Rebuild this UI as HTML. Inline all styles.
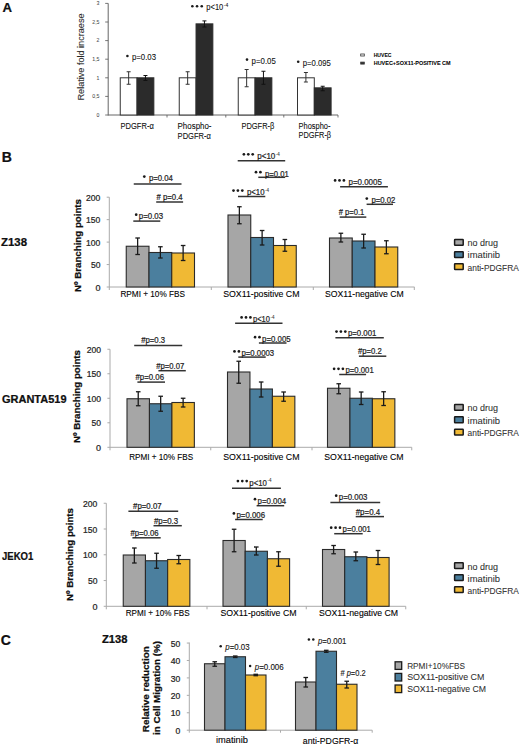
<!DOCTYPE html><html><head><meta charset="utf-8"><style>html,body{margin:0;padding:0;background:#fff;width:520px;height:745px;overflow:hidden}svg{display:block}text{font-family:"Liberation Sans", sans-serif;stroke:#000;stroke-width:0.22px;paint-order:normal}</style></head><body>
<svg width="520" height="745" viewBox="0 0 520 745">
<rect width="520" height="745" fill="#fff"/>
<text x="2.4" y="11.6" font-size="13.2" font-weight="bold" fill="#111" >A</text>
<line x1="108.2" y1="3.4" x2="108.2" y2="115.5" stroke="#666" stroke-width="1"/>
<line x1="108.2" y1="115.0" x2="338" y2="115.0" stroke="#666" stroke-width="1"/>
<line x1="105.2" y1="115.0" x2="108.2" y2="115.0" stroke="#555" stroke-width="0.8"/>
<text x="99.5" y="116.8" font-size="5.2" style="stroke-width:0.05px" text-anchor="end" fill="#555" >0</text>
<line x1="105.2" y1="96.4" x2="108.2" y2="96.4" stroke="#555" stroke-width="0.8"/>
<text x="99.5" y="98.2" font-size="5.2" style="stroke-width:0.05px" text-anchor="end" fill="#555" >0,5</text>
<line x1="105.2" y1="77.8" x2="108.2" y2="77.8" stroke="#555" stroke-width="0.8"/>
<text x="99.5" y="79.6" font-size="5.2" style="stroke-width:0.05px" text-anchor="end" fill="#555" >1</text>
<line x1="105.2" y1="59.199999999999996" x2="108.2" y2="59.199999999999996" stroke="#555" stroke-width="0.8"/>
<text x="99.5" y="60.99999999999999" font-size="5.2" style="stroke-width:0.05px" text-anchor="end" fill="#555" >1,5</text>
<line x1="105.2" y1="40.599999999999994" x2="108.2" y2="40.599999999999994" stroke="#555" stroke-width="0.8"/>
<text x="99.5" y="42.39999999999999" font-size="5.2" style="stroke-width:0.05px" text-anchor="end" fill="#555" >2</text>
<line x1="105.2" y1="22.0" x2="108.2" y2="22.0" stroke="#555" stroke-width="0.8"/>
<text x="99.5" y="23.8" font-size="5.2" style="stroke-width:0.05px" text-anchor="end" fill="#555" >2,5</text>
<line x1="105.2" y1="3.3999999999999915" x2="108.2" y2="3.3999999999999915" stroke="#555" stroke-width="0.8"/>
<text x="99.5" y="5.199999999999991" font-size="5.2" style="stroke-width:0.05px" text-anchor="end" fill="#555" >3</text>
<line x1="167" y1="115.0" x2="167" y2="117.5" stroke="#555" stroke-width="0.8"/>
<line x1="225.8" y1="115.0" x2="225.8" y2="117.5" stroke="#555" stroke-width="0.8"/>
<line x1="283.8" y1="115.0" x2="283.8" y2="117.5" stroke="#555" stroke-width="0.8"/>
<line x1="338" y1="115.0" x2="338" y2="117.5" stroke="#555" stroke-width="0.8"/>
<text transform="translate(83.5,57) rotate(-90)" font-size="9.3" style="stroke-width:0.08px" text-anchor="middle" textLength="87" lengthAdjust="spacingAndGlyphs" fill="#333" >Relative  fold incraese</text>
<rect x="120.25" y="77.8" width="16.8" height="37.2" fill="#fff" stroke="#333" stroke-width="1"/>
<rect x="137.05" y="77.8" width="16.8" height="37.2" fill="#2b2b2b" stroke="#2b2b2b" stroke-width="1"/>
<line x1="128.65" y1="71.75" x2="128.65" y2="84.25" stroke="#333" stroke-width="1"/>
<line x1="126.65" y1="71.75" x2="130.65" y2="71.75" stroke="#333" stroke-width="1"/>
<line x1="126.65" y1="84.25" x2="130.65" y2="84.25" stroke="#333" stroke-width="1"/>
<line x1="145.45" y1="75.5" x2="145.45" y2="80.5" stroke="#111" stroke-width="1"/>
<line x1="143.45" y1="75.5" x2="147.45" y2="75.5" stroke="#111" stroke-width="1"/>
<line x1="143.45" y1="80.5" x2="147.45" y2="80.5" stroke="#111" stroke-width="1"/>
<rect x="179.25" y="77.8" width="16.8" height="37.2" fill="#fff" stroke="#333" stroke-width="1"/>
<rect x="196.05" y="23.859999999999985" width="16.8" height="91.14000000000001" fill="#2b2b2b" stroke="#2b2b2b" stroke-width="1"/>
<line x1="187.65" y1="71.75" x2="187.65" y2="84.25" stroke="#333" stroke-width="1"/>
<line x1="185.65" y1="71.75" x2="189.65" y2="71.75" stroke="#333" stroke-width="1"/>
<line x1="185.65" y1="84.25" x2="189.65" y2="84.25" stroke="#333" stroke-width="1"/>
<line x1="204.45" y1="20.9" x2="204.45" y2="27.0" stroke="#111" stroke-width="1"/>
<line x1="202.45" y1="20.9" x2="206.45" y2="20.9" stroke="#111" stroke-width="1"/>
<line x1="202.45" y1="27.0" x2="206.45" y2="27.0" stroke="#111" stroke-width="1"/>
<rect x="238.25" y="77.8" width="16.8" height="37.2" fill="#fff" stroke="#333" stroke-width="1"/>
<rect x="255.05" y="77.8" width="16.8" height="37.2" fill="#2b2b2b" stroke="#2b2b2b" stroke-width="1"/>
<line x1="246.65" y1="69.5" x2="246.65" y2="86.75" stroke="#333" stroke-width="1"/>
<line x1="244.65" y1="69.5" x2="248.65" y2="69.5" stroke="#333" stroke-width="1"/>
<line x1="244.65" y1="86.75" x2="248.65" y2="86.75" stroke="#333" stroke-width="1"/>
<line x1="263.45" y1="71.25" x2="263.45" y2="84.25" stroke="#111" stroke-width="1"/>
<line x1="261.45" y1="71.25" x2="265.45" y2="71.25" stroke="#111" stroke-width="1"/>
<line x1="261.45" y1="84.25" x2="265.45" y2="84.25" stroke="#111" stroke-width="1"/>
<rect x="297.5" y="77.8" width="16.8" height="37.2" fill="#fff" stroke="#333" stroke-width="1"/>
<rect x="314.3" y="87.844" width="16.8" height="27.156000000000006" fill="#2b2b2b" stroke="#2b2b2b" stroke-width="1"/>
<line x1="305.9" y1="72.5" x2="305.9" y2="82.0" stroke="#333" stroke-width="1"/>
<line x1="303.9" y1="72.5" x2="307.9" y2="72.5" stroke="#333" stroke-width="1"/>
<line x1="303.9" y1="82.0" x2="307.9" y2="82.0" stroke="#333" stroke-width="1"/>
<line x1="322.7" y1="86.25" x2="322.7" y2="90.75" stroke="#111" stroke-width="1"/>
<line x1="320.7" y1="86.25" x2="324.7" y2="86.25" stroke="#111" stroke-width="1"/>
<line x1="320.7" y1="90.75" x2="324.7" y2="90.75" stroke="#111" stroke-width="1"/>
<circle cx="127.40" cy="56.00" r="1.3" fill="#1a1a1a"/>
<text x="132.0" y="59.6" font-size="8.3" style="stroke-width:0.08px" textLength="24.0" lengthAdjust="spacingAndGlyphs" fill="#111" >p=0.03</text>
<circle cx="192.35" cy="6.20" r="1.3" fill="#1a1a1a"/>
<circle cx="197.05" cy="6.20" r="1.3" fill="#1a1a1a"/>
<circle cx="201.75" cy="6.20" r="1.3" fill="#1a1a1a"/>
<text x="206.35" y="10.1" font-size="8.3" style="stroke-width:0.08px" textLength="16.95" lengthAdjust="spacingAndGlyphs" fill="#111" >p&lt;10</text>
<text x="223.8" y="6.8999999999999995" font-size="5" style="stroke-width:0.05px" fill="#111" >-4</text>
<circle cx="247.00" cy="59.60" r="1.3" fill="#1a1a1a"/>
<text x="251.6" y="63.8" font-size="8.3" style="stroke-width:0.08px" textLength="24.2" lengthAdjust="spacingAndGlyphs" fill="#111" >p=0.05</text>
<circle cx="298.20" cy="61.80" r="1.3" fill="#1a1a1a"/>
<text x="302.8" y="66.1" font-size="8.3" style="stroke-width:0.08px" textLength="28.1" lengthAdjust="spacingAndGlyphs" fill="#111" >p=0.095</text>
<text x="120.4" y="128.8" font-size="8.3" style="stroke-width:0.08px" textLength="33.4" lengthAdjust="spacingAndGlyphs" fill="#111" >PDGFR-α</text>
<text x="177.6" y="128.8" font-size="8.3" style="stroke-width:0.08px" textLength="33.9" lengthAdjust="spacingAndGlyphs" fill="#111" >Phospho-</text>
<text x="177.6" y="138.6" font-size="8.3" style="stroke-width:0.08px" textLength="33.4" lengthAdjust="spacingAndGlyphs" fill="#111" >PDGFR-α</text>
<text x="241.4" y="129.1" font-size="8.3" style="stroke-width:0.08px" textLength="33" lengthAdjust="spacingAndGlyphs" fill="#111" >PDGFR-β</text>
<text x="298.6" y="129.1" font-size="8.3" style="stroke-width:0.08px" textLength="31.9" lengthAdjust="spacingAndGlyphs" fill="#111" >Phospho-</text>
<text x="298.6" y="138.4" font-size="8.3" style="stroke-width:0.08px" textLength="32.5" lengthAdjust="spacingAndGlyphs" fill="#111" >PDGFR-β</text>
<rect x="360.7" y="54.0" width="3.6" height="2.0" fill="#fff" stroke="#333" stroke-width="0.8"/>
<rect x="360.7" y="62.1" width="3.6" height="2.0" fill="#333" stroke="#333" stroke-width="0.8"/>
<text x="373.7" y="57.1" font-size="5.6" style="stroke-width:0.05px" font-weight="bold" textLength="17.8" lengthAdjust="spacingAndGlyphs" >HUVEC</text>
<text x="373.7" y="65.0" font-size="5.6" style="stroke-width:0.05px" font-weight="bold" textLength="76.9" lengthAdjust="spacingAndGlyphs" >HUVEC+SOX11-POSITIVE CM</text>
<text x="1.8" y="161.7" font-size="14" font-weight="bold" fill="#111" >B</text>
<line x1="109.3" y1="197.2" x2="109.3" y2="290" stroke="#aaa" stroke-width="1"/>
<line x1="109.3" y1="287" x2="414.5" y2="287" stroke="#aaa" stroke-width="1"/>
<line x1="106.7" y1="287.0" x2="109.3" y2="287.0" stroke="#aaa" stroke-width="1"/>
<text x="100.39999999999999" y="290.6" font-size="9.0" text-anchor="end" fill="#333" >0</text>
<line x1="106.7" y1="264.55" x2="109.3" y2="264.55" stroke="#aaa" stroke-width="1"/>
<text x="100.39999999999999" y="268.15000000000003" font-size="9.0" text-anchor="end" textLength="9.5" lengthAdjust="spacingAndGlyphs" fill="#333" >50</text>
<line x1="106.7" y1="242.1" x2="109.3" y2="242.1" stroke="#aaa" stroke-width="1"/>
<text x="100.39999999999999" y="245.7" font-size="9.0" text-anchor="end" textLength="14.3" lengthAdjust="spacingAndGlyphs" fill="#333" >100</text>
<line x1="106.7" y1="219.64999999999998" x2="109.3" y2="219.64999999999998" stroke="#aaa" stroke-width="1"/>
<text x="100.39999999999999" y="223.24999999999997" font-size="9.0" text-anchor="end" textLength="14.3" lengthAdjust="spacingAndGlyphs" fill="#333" >150</text>
<line x1="106.7" y1="197.2" x2="109.3" y2="197.2" stroke="#aaa" stroke-width="1"/>
<text x="100.39999999999999" y="200.79999999999998" font-size="9.0" text-anchor="end" textLength="14.3" lengthAdjust="spacingAndGlyphs" fill="#333" >200</text>
<line x1="211.3" y1="287" x2="211.3" y2="290" stroke="#aaa" stroke-width="1"/>
<line x1="313.3" y1="287" x2="313.3" y2="290" stroke="#aaa" stroke-width="1"/>
<line x1="414.3" y1="287" x2="414.3" y2="290" stroke="#aaa" stroke-width="1"/>
<rect x="126.25" y="246.25" width="22.75" height="40.75" fill="#a6a6a6" stroke="#2a2a2a" stroke-width="1.1"/>
<rect x="149.0" y="252.5" width="22.75" height="34.5" fill="#4b7f9e" stroke="#2a2a2a" stroke-width="1.1"/>
<rect x="171.75" y="253" width="22.75" height="34" fill="#f0b934" stroke="#2a2a2a" stroke-width="1.1"/>
<line x1="137.625" y1="238" x2="137.625" y2="254.5" stroke="#1a1a1a" stroke-width="1.3"/>
<line x1="135.325" y1="238" x2="139.925" y2="238" stroke="#1a1a1a" stroke-width="1.3"/>
<line x1="135.325" y1="254.5" x2="139.925" y2="254.5" stroke="#1a1a1a" stroke-width="1.3"/>
<line x1="160.375" y1="246.75" x2="160.375" y2="258" stroke="#1a1a1a" stroke-width="1.3"/>
<line x1="158.075" y1="246.75" x2="162.675" y2="246.75" stroke="#1a1a1a" stroke-width="1.3"/>
<line x1="158.075" y1="258" x2="162.675" y2="258" stroke="#1a1a1a" stroke-width="1.3"/>
<line x1="183.125" y1="245.5" x2="183.125" y2="260.5" stroke="#1a1a1a" stroke-width="1.3"/>
<line x1="180.825" y1="245.5" x2="185.425" y2="245.5" stroke="#1a1a1a" stroke-width="1.3"/>
<line x1="180.825" y1="260.5" x2="185.425" y2="260.5" stroke="#1a1a1a" stroke-width="1.3"/>
<rect x="228.0" y="215" width="22.75" height="72" fill="#a6a6a6" stroke="#2a2a2a" stroke-width="1.1"/>
<rect x="250.75" y="237.5" width="22.75" height="49.5" fill="#4b7f9e" stroke="#2a2a2a" stroke-width="1.1"/>
<rect x="273.5" y="245.5" width="22.75" height="41.5" fill="#f0b934" stroke="#2a2a2a" stroke-width="1.1"/>
<line x1="239.375" y1="206.75" x2="239.375" y2="223.75" stroke="#1a1a1a" stroke-width="1.3"/>
<line x1="237.075" y1="206.75" x2="241.675" y2="206.75" stroke="#1a1a1a" stroke-width="1.3"/>
<line x1="237.075" y1="223.75" x2="241.675" y2="223.75" stroke="#1a1a1a" stroke-width="1.3"/>
<line x1="262.125" y1="230.5" x2="262.125" y2="245" stroke="#1a1a1a" stroke-width="1.3"/>
<line x1="259.825" y1="230.5" x2="264.425" y2="230.5" stroke="#1a1a1a" stroke-width="1.3"/>
<line x1="259.825" y1="245" x2="264.425" y2="245" stroke="#1a1a1a" stroke-width="1.3"/>
<line x1="284.875" y1="239.5" x2="284.875" y2="251.25" stroke="#1a1a1a" stroke-width="1.3"/>
<line x1="282.575" y1="239.5" x2="287.175" y2="239.5" stroke="#1a1a1a" stroke-width="1.3"/>
<line x1="282.575" y1="251.25" x2="287.175" y2="251.25" stroke="#1a1a1a" stroke-width="1.3"/>
<rect x="329.5" y="238" width="22.75" height="49" fill="#a6a6a6" stroke="#2a2a2a" stroke-width="1.1"/>
<rect x="352.25" y="241" width="22.75" height="46" fill="#4b7f9e" stroke="#2a2a2a" stroke-width="1.1"/>
<rect x="375.0" y="247" width="22.75" height="40" fill="#f0b934" stroke="#2a2a2a" stroke-width="1.1"/>
<line x1="340.875" y1="233.25" x2="340.875" y2="242" stroke="#1a1a1a" stroke-width="1.3"/>
<line x1="338.575" y1="233.25" x2="343.175" y2="233.25" stroke="#1a1a1a" stroke-width="1.3"/>
<line x1="338.575" y1="242" x2="343.175" y2="242" stroke="#1a1a1a" stroke-width="1.3"/>
<line x1="363.625" y1="234.25" x2="363.625" y2="248" stroke="#1a1a1a" stroke-width="1.3"/>
<line x1="361.325" y1="234.25" x2="365.925" y2="234.25" stroke="#1a1a1a" stroke-width="1.3"/>
<line x1="361.325" y1="248" x2="365.925" y2="248" stroke="#1a1a1a" stroke-width="1.3"/>
<line x1="386.375" y1="240.75" x2="386.375" y2="253.75" stroke="#1a1a1a" stroke-width="1.3"/>
<line x1="384.075" y1="240.75" x2="388.675" y2="240.75" stroke="#1a1a1a" stroke-width="1.3"/>
<line x1="384.075" y1="253.75" x2="388.675" y2="253.75" stroke="#1a1a1a" stroke-width="1.3"/>
<line x1="133.3" y1="221.1" x2="160.3" y2="221.1" stroke="#333" stroke-width="1.5"/>
<circle cx="136.20" cy="214.70" r="1.35" fill="#1a1a1a"/>
<text x="138.8" y="219.1" font-size="8.8" textLength="24.3" lengthAdjust="spacingAndGlyphs" fill="#333" >p=0.03</text>
<line x1="156.2" y1="202.0" x2="183.1" y2="202.0" stroke="#333" stroke-width="1.5"/>
<text x="156.6" y="199.9" font-size="8.8" textLength="26.0" lengthAdjust="spacingAndGlyphs" fill="#333" ># p=0.4</text>
<line x1="133.75" y1="183.9" x2="181.5" y2="183.9" stroke="#333" stroke-width="1.5"/>
<circle cx="144.30" cy="176.60" r="1.35" fill="#1a1a1a"/>
<text x="148.9" y="181.0" font-size="8.8" textLength="23.9" lengthAdjust="spacingAndGlyphs" fill="#333" >p=0.04</text>
<line x1="238" y1="196.5" x2="265.3" y2="196.5" stroke="#333" stroke-width="1.5"/>
<circle cx="233.50" cy="190.60" r="1.35" fill="#1a1a1a"/>
<circle cx="237.90" cy="190.60" r="1.35" fill="#1a1a1a"/>
<circle cx="242.30" cy="190.60" r="1.35" fill="#1a1a1a"/>
<text x="246.9" y="195.0" font-size="8.8" textLength="17.6" lengthAdjust="spacingAndGlyphs" fill="#333" >p&lt;10</text>
<text x="265.0" y="191.8" font-size="4.5" style="stroke-width:0.05px" fill="#333" >-4</text>
<line x1="258.3" y1="177.3" x2="285.2" y2="177.3" stroke="#333" stroke-width="1.5"/>
<circle cx="256.00" cy="172.20" r="1.35" fill="#1a1a1a"/>
<circle cx="260.40" cy="172.20" r="1.35" fill="#1a1a1a"/>
<text x="265.0" y="176.6" font-size="8.8" textLength="23.8" lengthAdjust="spacingAndGlyphs" fill="#333" >p=0.01</text>
<line x1="237.7" y1="160.75" x2="285.2" y2="160.75" stroke="#333" stroke-width="1.5"/>
<circle cx="243.90" cy="154.30" r="1.35" fill="#1a1a1a"/>
<circle cx="248.30" cy="154.30" r="1.35" fill="#1a1a1a"/>
<circle cx="252.70" cy="154.30" r="1.35" fill="#1a1a1a"/>
<text x="257.3" y="158.7" font-size="8.8" textLength="18.0" lengthAdjust="spacingAndGlyphs" fill="#333" >p&lt;10</text>
<text x="275.8" y="155.5" font-size="4.5" style="stroke-width:0.05px" fill="#333" >-4</text>
<line x1="340.1" y1="186.8" x2="387.9" y2="186.8" stroke="#333" stroke-width="1.5"/>
<circle cx="335.10" cy="180.40" r="1.35" fill="#1a1a1a"/>
<circle cx="339.50" cy="180.40" r="1.35" fill="#1a1a1a"/>
<circle cx="343.90" cy="180.40" r="1.35" fill="#1a1a1a"/>
<text x="348.5" y="184.8" font-size="8.8" textLength="33.3" lengthAdjust="spacingAndGlyphs" fill="#333" >p=0.0005</text>
<line x1="366.6" y1="204.3" x2="393" y2="204.3" stroke="#333" stroke-width="1.5"/>
<circle cx="366.80" cy="198.60" r="1.35" fill="#1a1a1a"/>
<text x="371.4" y="203.0" font-size="8.8" textLength="23.9" lengthAdjust="spacingAndGlyphs" fill="#333" >p=0.02</text>
<line x1="339.7" y1="217.1" x2="366.3" y2="217.1" stroke="#333" stroke-width="1.5"/>
<text x="338.7" y="214.8" font-size="8.8" textLength="25.6" lengthAdjust="spacingAndGlyphs" fill="#333" ># p=0.1</text>
<text transform="translate(81.2,245.5) rotate(-90)" font-size="8.8" font-weight="bold" text-anchor="middle" textLength="93" lengthAdjust="spacingAndGlyphs" fill="#111" >Nº Branching points</text>
<text x="1" y="245.6" font-size="11" font-weight="bold" textLength="26" lengthAdjust="spacingAndGlyphs" fill="#111" >Z138</text>
<text x="120.4" y="297" font-size="8.5" style="stroke-width:0.1px" textLength="64.6" lengthAdjust="spacingAndGlyphs" >RPMI + 10% FBS</text>
<text x="223.2" y="297" font-size="8.5" style="stroke-width:0.1px" textLength="76.30000000000001" lengthAdjust="spacingAndGlyphs" >SOX11-positive CM</text>
<text x="325" y="297" font-size="8.5" style="stroke-width:0.1px" textLength="78.75" lengthAdjust="spacingAndGlyphs" >SOX11-negative CM</text>
<rect x="454.6" y="239.50" width="8.6" height="5.8" rx="0.5" fill="#a6a6a6" stroke="#1a1a1a" stroke-width="1.5"/>
<text x="467.6" y="246.3" font-size="9.2" style="stroke-width:0.06px" textLength="30.5" lengthAdjust="spacingAndGlyphs" fill="#333" >no drug</text>
<rect x="454.6" y="251.65" width="8.6" height="5.8" rx="0.5" fill="#4b7f9e" stroke="#1a1a1a" stroke-width="1.5"/>
<text x="467.6" y="258.45" font-size="9.2" style="stroke-width:0.06px" textLength="32.5" lengthAdjust="spacingAndGlyphs" fill="#333" >imatinib</text>
<rect x="454.6" y="263.80" width="8.6" height="5.8" rx="0.5" fill="#f0b934" stroke="#1a1a1a" stroke-width="1.5"/>
<text x="467.6" y="270.6" font-size="9.2" style="stroke-width:0.06px" textLength="51.2" lengthAdjust="spacingAndGlyphs" fill="#333" >anti-PDGFRA</text>
<line x1="110" y1="349.25" x2="110" y2="450.3" stroke="#aaa" stroke-width="1"/>
<line x1="110" y1="447.3" x2="411.75" y2="447.3" stroke="#aaa" stroke-width="1"/>
<line x1="107.4" y1="447.3" x2="110" y2="447.3" stroke="#aaa" stroke-width="1"/>
<text x="101.1" y="450.90000000000003" font-size="9.0" text-anchor="end" fill="#333" >0</text>
<line x1="107.4" y1="422.7875" x2="110" y2="422.7875" stroke="#aaa" stroke-width="1"/>
<text x="101.1" y="426.38750000000005" font-size="9.0" text-anchor="end" textLength="9.5" lengthAdjust="spacingAndGlyphs" fill="#333" >50</text>
<line x1="107.4" y1="398.275" x2="110" y2="398.275" stroke="#aaa" stroke-width="1"/>
<text x="101.1" y="401.875" font-size="9.0" text-anchor="end" textLength="14.3" lengthAdjust="spacingAndGlyphs" fill="#333" >100</text>
<line x1="107.4" y1="373.7625" x2="110" y2="373.7625" stroke="#aaa" stroke-width="1"/>
<text x="101.1" y="377.3625" font-size="9.0" text-anchor="end" textLength="14.3" lengthAdjust="spacingAndGlyphs" fill="#333" >150</text>
<line x1="107.4" y1="349.25" x2="110" y2="349.25" stroke="#aaa" stroke-width="1"/>
<text x="101.1" y="352.85" font-size="9.0" text-anchor="end" textLength="14.3" lengthAdjust="spacingAndGlyphs" fill="#333" >200</text>
<line x1="210.75" y1="447.3" x2="210.75" y2="450.3" stroke="#aaa" stroke-width="1"/>
<line x1="312" y1="447.3" x2="312" y2="450.3" stroke="#aaa" stroke-width="1"/>
<line x1="411.75" y1="447.3" x2="411.75" y2="450.3" stroke="#aaa" stroke-width="1"/>
<rect x="127.0" y="398.75" width="22.45" height="48.55000000000001" fill="#a6a6a6" stroke="#2a2a2a" stroke-width="1.1"/>
<rect x="149.45" y="403.75" width="22.45" height="43.55000000000001" fill="#4b7f9e" stroke="#2a2a2a" stroke-width="1.1"/>
<rect x="171.9" y="402.5" width="22.45" height="44.80000000000001" fill="#f0b934" stroke="#2a2a2a" stroke-width="1.1"/>
<line x1="138.225" y1="391.75" x2="138.225" y2="405.75" stroke="#1a1a1a" stroke-width="1.3"/>
<line x1="135.92499999999998" y1="391.75" x2="140.525" y2="391.75" stroke="#1a1a1a" stroke-width="1.3"/>
<line x1="135.92499999999998" y1="405.75" x2="140.525" y2="405.75" stroke="#1a1a1a" stroke-width="1.3"/>
<line x1="160.67499999999998" y1="396.25" x2="160.67499999999998" y2="411.25" stroke="#1a1a1a" stroke-width="1.3"/>
<line x1="158.37499999999997" y1="396.25" x2="162.975" y2="396.25" stroke="#1a1a1a" stroke-width="1.3"/>
<line x1="158.37499999999997" y1="411.25" x2="162.975" y2="411.25" stroke="#1a1a1a" stroke-width="1.3"/>
<line x1="183.125" y1="398.25" x2="183.125" y2="407" stroke="#1a1a1a" stroke-width="1.3"/>
<line x1="180.825" y1="398.25" x2="185.425" y2="398.25" stroke="#1a1a1a" stroke-width="1.3"/>
<line x1="180.825" y1="407" x2="185.425" y2="407" stroke="#1a1a1a" stroke-width="1.3"/>
<rect x="227.5" y="372" width="22.45" height="75.30000000000001" fill="#a6a6a6" stroke="#2a2a2a" stroke-width="1.1"/>
<rect x="249.95" y="389" width="22.45" height="58.30000000000001" fill="#4b7f9e" stroke="#2a2a2a" stroke-width="1.1"/>
<rect x="272.4" y="396.25" width="22.45" height="51.05000000000001" fill="#f0b934" stroke="#2a2a2a" stroke-width="1.1"/>
<line x1="238.725" y1="361.25" x2="238.725" y2="383.25" stroke="#1a1a1a" stroke-width="1.3"/>
<line x1="236.42499999999998" y1="361.25" x2="241.025" y2="361.25" stroke="#1a1a1a" stroke-width="1.3"/>
<line x1="236.42499999999998" y1="383.25" x2="241.025" y2="383.25" stroke="#1a1a1a" stroke-width="1.3"/>
<line x1="261.175" y1="382" x2="261.175" y2="397" stroke="#1a1a1a" stroke-width="1.3"/>
<line x1="258.875" y1="382" x2="263.475" y2="382" stroke="#1a1a1a" stroke-width="1.3"/>
<line x1="258.875" y1="397" x2="263.475" y2="397" stroke="#1a1a1a" stroke-width="1.3"/>
<line x1="283.625" y1="392" x2="283.625" y2="401.25" stroke="#1a1a1a" stroke-width="1.3"/>
<line x1="281.325" y1="392" x2="285.925" y2="392" stroke="#1a1a1a" stroke-width="1.3"/>
<line x1="281.325" y1="401.25" x2="285.925" y2="401.25" stroke="#1a1a1a" stroke-width="1.3"/>
<rect x="327.5" y="388.25" width="22.45" height="59.05000000000001" fill="#a6a6a6" stroke="#2a2a2a" stroke-width="1.1"/>
<rect x="349.95" y="398.25" width="22.45" height="49.05000000000001" fill="#4b7f9e" stroke="#2a2a2a" stroke-width="1.1"/>
<rect x="372.4" y="398.75" width="22.45" height="48.55000000000001" fill="#f0b934" stroke="#2a2a2a" stroke-width="1.1"/>
<line x1="338.725" y1="383.75" x2="338.725" y2="393.75" stroke="#1a1a1a" stroke-width="1.3"/>
<line x1="336.425" y1="383.75" x2="341.02500000000003" y2="383.75" stroke="#1a1a1a" stroke-width="1.3"/>
<line x1="336.425" y1="393.75" x2="341.02500000000003" y2="393.75" stroke="#1a1a1a" stroke-width="1.3"/>
<line x1="361.175" y1="392" x2="361.175" y2="404.5" stroke="#1a1a1a" stroke-width="1.3"/>
<line x1="358.875" y1="392" x2="363.475" y2="392" stroke="#1a1a1a" stroke-width="1.3"/>
<line x1="358.875" y1="404.5" x2="363.475" y2="404.5" stroke="#1a1a1a" stroke-width="1.3"/>
<line x1="383.625" y1="391.75" x2="383.625" y2="405.5" stroke="#1a1a1a" stroke-width="1.3"/>
<line x1="381.325" y1="391.75" x2="385.925" y2="391.75" stroke="#1a1a1a" stroke-width="1.3"/>
<line x1="381.325" y1="405.5" x2="385.925" y2="405.5" stroke="#1a1a1a" stroke-width="1.3"/>
<line x1="137.4" y1="382.1" x2="165" y2="382.1" stroke="#333" stroke-width="1.5"/>
<text x="135.5" y="380.1" font-size="8.8" textLength="28.5" lengthAdjust="spacingAndGlyphs" fill="#333" >#p=0.06</text>
<line x1="158.4" y1="370.7" x2="185.8" y2="370.7" stroke="#333" stroke-width="1.5"/>
<text x="156.2" y="368.6" font-size="8.8" textLength="28.0" lengthAdjust="spacingAndGlyphs" fill="#333" >#p=0.07</text>
<line x1="134.2" y1="345.4" x2="182.2" y2="345.4" stroke="#333" stroke-width="1.5"/>
<text x="141.2" y="343.3" font-size="8.8" textLength="23.9" lengthAdjust="spacingAndGlyphs" fill="#333" >#p=0.3</text>
<line x1="238.3" y1="357.1" x2="265.7" y2="357.1" stroke="#333" stroke-width="1.5"/>
<circle cx="234.50" cy="351.40" r="1.35" fill="#1a1a1a"/>
<circle cx="238.90" cy="351.40" r="1.35" fill="#1a1a1a"/>
<text x="241.5" y="355.8" font-size="8.8" textLength="32.6" lengthAdjust="spacingAndGlyphs" fill="#333" >p=0.0003</text>
<line x1="258.9" y1="343" x2="286.5" y2="343" stroke="#333" stroke-width="1.5"/>
<circle cx="255.10" cy="337.20" r="1.35" fill="#1a1a1a"/>
<circle cx="259.50" cy="337.20" r="1.35" fill="#1a1a1a"/>
<text x="262.1" y="341.6" font-size="8.8" textLength="28.5" lengthAdjust="spacingAndGlyphs" fill="#333" >p=0.005</text>
<line x1="235.1" y1="323.2" x2="282.5" y2="323.2" stroke="#333" stroke-width="1.5"/>
<circle cx="241.60" cy="317.40" r="1.35" fill="#1a1a1a"/>
<circle cx="246.00" cy="317.40" r="1.35" fill="#1a1a1a"/>
<circle cx="250.40" cy="317.40" r="1.35" fill="#1a1a1a"/>
<text x="253.0" y="321.8" font-size="8.8" textLength="16.9" lengthAdjust="spacingAndGlyphs" fill="#333" >p&lt;10</text>
<text x="270.4" y="318.6" font-size="4.5" style="stroke-width:0.05px" fill="#333" >-4</text>
<line x1="339.2" y1="374.5" x2="366.1" y2="374.5" stroke="#333" stroke-width="1.5"/>
<circle cx="334.10" cy="368.80" r="1.35" fill="#1a1a1a"/>
<circle cx="338.50" cy="368.80" r="1.35" fill="#1a1a1a"/>
<circle cx="342.90" cy="368.80" r="1.35" fill="#1a1a1a"/>
<text x="345.5" y="373.2" font-size="8.8" textLength="28.2" lengthAdjust="spacingAndGlyphs" fill="#333" >p=0.001</text>
<line x1="358.9" y1="356.2" x2="386.3" y2="356.2" stroke="#333" stroke-width="1.5"/>
<text x="358" y="354.3" font-size="8.8" textLength="23.8" lengthAdjust="spacingAndGlyphs" fill="#333" >#p=0.2</text>
<line x1="335.4" y1="337.8" x2="383.8" y2="337.8" stroke="#333" stroke-width="1.5"/>
<circle cx="336.50" cy="331.60" r="1.35" fill="#1a1a1a"/>
<circle cx="340.90" cy="331.60" r="1.35" fill="#1a1a1a"/>
<circle cx="345.30" cy="331.60" r="1.35" fill="#1a1a1a"/>
<text x="347.9" y="336.0" font-size="8.8" textLength="28.5" lengthAdjust="spacingAndGlyphs" fill="#333" >p=0.001</text>
<text transform="translate(80.0,396.5) rotate(-90)" font-size="8.8" font-weight="bold" text-anchor="middle" textLength="93" lengthAdjust="spacingAndGlyphs" fill="#111" >Nº Branching points</text>
<text x="2" y="403" font-size="11" font-weight="bold" textLength="64.5" lengthAdjust="spacingAndGlyphs" fill="#111" >GRANTA519</text>
<text x="129.2" y="460" font-size="8.5" style="stroke-width:0.1px" textLength="63.900000000000006" lengthAdjust="spacingAndGlyphs" >RPMI + 10% FBS</text>
<text x="223.2" y="460" font-size="8.5" style="stroke-width:0.1px" textLength="76.30000000000001" lengthAdjust="spacingAndGlyphs" >SOX11-positive CM</text>
<text x="324.3" y="460" font-size="8.5" style="stroke-width:0.1px" textLength="79.19999999999999" lengthAdjust="spacingAndGlyphs" >SOX11-negative CM</text>
<rect x="454.6" y="404.40" width="8.6" height="5.8" rx="0.5" fill="#a6a6a6" stroke="#1a1a1a" stroke-width="1.5"/>
<text x="467.6" y="411.2" font-size="9.2" style="stroke-width:0.06px" textLength="30.5" lengthAdjust="spacingAndGlyphs" fill="#333" >no drug</text>
<rect x="454.6" y="416.85" width="8.6" height="5.8" rx="0.5" fill="#4b7f9e" stroke="#1a1a1a" stroke-width="1.5"/>
<text x="467.6" y="423.65" font-size="9.2" style="stroke-width:0.06px" textLength="32.5" lengthAdjust="spacingAndGlyphs" fill="#333" >imatinib</text>
<rect x="454.6" y="429.30" width="8.6" height="5.8" rx="0.5" fill="#f0b934" stroke="#1a1a1a" stroke-width="1.5"/>
<text x="467.6" y="436.09999999999997" font-size="9.2" style="stroke-width:0.06px" textLength="51.2" lengthAdjust="spacingAndGlyphs" fill="#333" >anti-PDGFRA</text>
<line x1="106.3" y1="503.25" x2="106.3" y2="609.3" stroke="#aaa" stroke-width="1"/>
<line x1="106.3" y1="606.3" x2="405.75" y2="606.3" stroke="#aaa" stroke-width="1"/>
<line x1="103.7" y1="606.3" x2="106.3" y2="606.3" stroke="#aaa" stroke-width="1"/>
<text x="97.39999999999999" y="609.9" font-size="9.0" text-anchor="end" fill="#333" >0</text>
<line x1="103.7" y1="580.5374999999999" x2="106.3" y2="580.5374999999999" stroke="#aaa" stroke-width="1"/>
<text x="97.39999999999999" y="584.1374999999999" font-size="9.0" text-anchor="end" textLength="9.5" lengthAdjust="spacingAndGlyphs" fill="#333" >50</text>
<line x1="103.7" y1="554.775" x2="106.3" y2="554.775" stroke="#aaa" stroke-width="1"/>
<text x="97.39999999999999" y="558.375" font-size="9.0" text-anchor="end" textLength="14.3" lengthAdjust="spacingAndGlyphs" fill="#333" >100</text>
<line x1="103.7" y1="529.0125" x2="106.3" y2="529.0125" stroke="#aaa" stroke-width="1"/>
<text x="97.39999999999999" y="532.6125000000001" font-size="9.0" text-anchor="end" textLength="14.3" lengthAdjust="spacingAndGlyphs" fill="#333" >150</text>
<line x1="103.7" y1="503.25" x2="106.3" y2="503.25" stroke="#aaa" stroke-width="1"/>
<text x="97.39999999999999" y="506.85" font-size="9.0" text-anchor="end" textLength="14.3" lengthAdjust="spacingAndGlyphs" fill="#333" >200</text>
<line x1="207" y1="606.3" x2="207" y2="609.3" stroke="#aaa" stroke-width="1"/>
<line x1="306.25" y1="606.3" x2="306.25" y2="609.3" stroke="#aaa" stroke-width="1"/>
<line x1="405.75" y1="606.3" x2="405.75" y2="609.3" stroke="#aaa" stroke-width="1"/>
<rect x="123.25" y="555" width="22.2" height="51.299999999999955" fill="#a6a6a6" stroke="#2a2a2a" stroke-width="1.1"/>
<rect x="145.45" y="560.75" width="22.2" height="45.549999999999955" fill="#4b7f9e" stroke="#2a2a2a" stroke-width="1.1"/>
<rect x="167.65" y="559.5" width="22.2" height="46.799999999999955" fill="#f0b934" stroke="#2a2a2a" stroke-width="1.1"/>
<line x1="134.35" y1="548" x2="134.35" y2="563" stroke="#1a1a1a" stroke-width="1.3"/>
<line x1="132.04999999999998" y1="548" x2="136.65" y2="548" stroke="#1a1a1a" stroke-width="1.3"/>
<line x1="132.04999999999998" y1="563" x2="136.65" y2="563" stroke="#1a1a1a" stroke-width="1.3"/>
<line x1="156.54999999999998" y1="553.25" x2="156.54999999999998" y2="568.25" stroke="#1a1a1a" stroke-width="1.3"/>
<line x1="154.24999999999997" y1="553.25" x2="158.85" y2="553.25" stroke="#1a1a1a" stroke-width="1.3"/>
<line x1="154.24999999999997" y1="568.25" x2="158.85" y2="568.25" stroke="#1a1a1a" stroke-width="1.3"/>
<line x1="178.75" y1="555.5" x2="178.75" y2="563.75" stroke="#1a1a1a" stroke-width="1.3"/>
<line x1="176.45" y1="555.5" x2="181.05" y2="555.5" stroke="#1a1a1a" stroke-width="1.3"/>
<line x1="176.45" y1="563.75" x2="181.05" y2="563.75" stroke="#1a1a1a" stroke-width="1.3"/>
<rect x="223.0" y="540.5" width="22.2" height="65.79999999999995" fill="#a6a6a6" stroke="#2a2a2a" stroke-width="1.1"/>
<rect x="245.2" y="551.25" width="22.2" height="55.049999999999955" fill="#4b7f9e" stroke="#2a2a2a" stroke-width="1.1"/>
<rect x="267.4" y="558.75" width="22.2" height="47.549999999999955" fill="#f0b934" stroke="#2a2a2a" stroke-width="1.1"/>
<line x1="234.1" y1="529.25" x2="234.1" y2="551.75" stroke="#1a1a1a" stroke-width="1.3"/>
<line x1="231.79999999999998" y1="529.25" x2="236.4" y2="529.25" stroke="#1a1a1a" stroke-width="1.3"/>
<line x1="231.79999999999998" y1="551.75" x2="236.4" y2="551.75" stroke="#1a1a1a" stroke-width="1.3"/>
<line x1="256.3" y1="547" x2="256.3" y2="555" stroke="#1a1a1a" stroke-width="1.3"/>
<line x1="254.0" y1="547" x2="258.6" y2="547" stroke="#1a1a1a" stroke-width="1.3"/>
<line x1="254.0" y1="555" x2="258.6" y2="555" stroke="#1a1a1a" stroke-width="1.3"/>
<line x1="278.5" y1="551.75" x2="278.5" y2="566.25" stroke="#1a1a1a" stroke-width="1.3"/>
<line x1="276.2" y1="551.75" x2="280.8" y2="551.75" stroke="#1a1a1a" stroke-width="1.3"/>
<line x1="276.2" y1="566.25" x2="280.8" y2="566.25" stroke="#1a1a1a" stroke-width="1.3"/>
<rect x="322.5" y="549.5" width="22.2" height="56.799999999999955" fill="#a6a6a6" stroke="#2a2a2a" stroke-width="1.1"/>
<rect x="344.7" y="556.75" width="22.2" height="49.549999999999955" fill="#4b7f9e" stroke="#2a2a2a" stroke-width="1.1"/>
<rect x="366.9" y="557.5" width="22.2" height="48.799999999999955" fill="#f0b934" stroke="#2a2a2a" stroke-width="1.1"/>
<line x1="333.6" y1="545.5" x2="333.6" y2="553.75" stroke="#1a1a1a" stroke-width="1.3"/>
<line x1="331.3" y1="545.5" x2="335.90000000000003" y2="545.5" stroke="#1a1a1a" stroke-width="1.3"/>
<line x1="331.3" y1="553.75" x2="335.90000000000003" y2="553.75" stroke="#1a1a1a" stroke-width="1.3"/>
<line x1="355.8" y1="552" x2="355.8" y2="560.75" stroke="#1a1a1a" stroke-width="1.3"/>
<line x1="353.5" y1="552" x2="358.1" y2="552" stroke="#1a1a1a" stroke-width="1.3"/>
<line x1="353.5" y1="560.75" x2="358.1" y2="560.75" stroke="#1a1a1a" stroke-width="1.3"/>
<line x1="378.0" y1="550.5" x2="378.0" y2="564.5" stroke="#1a1a1a" stroke-width="1.3"/>
<line x1="375.7" y1="550.5" x2="380.3" y2="550.5" stroke="#1a1a1a" stroke-width="1.3"/>
<line x1="375.7" y1="564.5" x2="380.3" y2="564.5" stroke="#1a1a1a" stroke-width="1.3"/>
<line x1="132.4" y1="537.8" x2="160.7" y2="537.8" stroke="#333" stroke-width="1.5"/>
<text x="130.4" y="535.6" font-size="8.8" textLength="28.2" lengthAdjust="spacingAndGlyphs" fill="#333" >#p=0.06</text>
<line x1="153.5" y1="525.7" x2="181.8" y2="525.7" stroke="#333" stroke-width="1.5"/>
<text x="153.9" y="523.9" font-size="8.8" textLength="24.3" lengthAdjust="spacingAndGlyphs" fill="#333" >#p=0.3</text>
<line x1="128.4" y1="511.2" x2="178.2" y2="511.2" stroke="#333" stroke-width="1.5"/>
<text x="133.1" y="509.1" font-size="8.8" textLength="28.5" lengthAdjust="spacingAndGlyphs" fill="#333" >#p=0.07</text>
<line x1="235.1" y1="519.5" x2="262.7" y2="519.5" stroke="#333" stroke-width="1.5"/>
<circle cx="233.90" cy="513.40" r="1.35" fill="#1a1a1a"/>
<text x="236.5" y="517.8" font-size="8.8" textLength="28.6" lengthAdjust="spacingAndGlyphs" fill="#333" >p=0.006</text>
<line x1="256.6" y1="505.7" x2="284.2" y2="505.7" stroke="#333" stroke-width="1.5"/>
<circle cx="255.00" cy="499.20" r="1.35" fill="#1a1a1a"/>
<text x="257.6" y="503.6" font-size="8.8" textLength="28.6" lengthAdjust="spacingAndGlyphs" fill="#333" >p=0.004</text>
<line x1="232" y1="488.2" x2="280.9" y2="488.2" stroke="#333" stroke-width="1.5"/>
<circle cx="237.90" cy="481.10" r="1.35" fill="#1a1a1a"/>
<circle cx="242.30" cy="481.10" r="1.35" fill="#1a1a1a"/>
<circle cx="246.70" cy="481.10" r="1.35" fill="#1a1a1a"/>
<text x="249.3" y="485.5" font-size="8.8" textLength="17.6" lengthAdjust="spacingAndGlyphs" fill="#333" >p&lt;10</text>
<text x="267.4" y="482.3" font-size="4.5" style="stroke-width:0.05px" fill="#333" >-4</text>
<line x1="334.2" y1="533.7" x2="362.7" y2="533.7" stroke="#333" stroke-width="1.5"/>
<circle cx="331.20" cy="527.70" r="1.35" fill="#1a1a1a"/>
<circle cx="335.60" cy="527.70" r="1.35" fill="#1a1a1a"/>
<circle cx="340.00" cy="527.70" r="1.35" fill="#1a1a1a"/>
<text x="342.6" y="532.1" font-size="8.8" textLength="28.2" lengthAdjust="spacingAndGlyphs" fill="#333" >p=0.001</text>
<line x1="355.7" y1="516.6" x2="384" y2="516.6" stroke="#333" stroke-width="1.5"/>
<text x="355.7" y="514.6" font-size="8.8" textLength="24.5" lengthAdjust="spacingAndGlyphs" fill="#333" >#p=0.4</text>
<line x1="330.4" y1="502.5" x2="380.2" y2="502.5" stroke="#333" stroke-width="1.5"/>
<circle cx="336.20" cy="495.70" r="1.35" fill="#1a1a1a"/>
<text x="338.8" y="500.1" font-size="8.8" textLength="28.6" lengthAdjust="spacingAndGlyphs" fill="#333" >p=0.003</text>
<text transform="translate(72.7,554.5) rotate(-90)" font-size="8.8" font-weight="bold" text-anchor="middle" textLength="93" lengthAdjust="spacingAndGlyphs" fill="#111" >Nº Branching points</text>
<text x="2" y="560" font-size="11" font-weight="bold" textLength="31.3" lengthAdjust="spacingAndGlyphs" fill="#111" >JEKO1</text>
<text x="125.7" y="616.2" font-size="8.5" style="stroke-width:0.1px" textLength="63.89999999999999" lengthAdjust="spacingAndGlyphs" >RPMI + 10% FBS</text>
<text x="220.4" y="616.2" font-size="8.5" style="stroke-width:0.1px" textLength="76.1" lengthAdjust="spacingAndGlyphs" >SOX11-positive CM</text>
<text x="318.9" y="616" font-size="8.5" style="stroke-width:0.1px" textLength="79.20000000000005" lengthAdjust="spacingAndGlyphs" >SOX11-negative CM</text>
<rect x="454.6" y="562.70" width="8.6" height="5.8" rx="0.5" fill="#a6a6a6" stroke="#1a1a1a" stroke-width="1.5"/>
<text x="467.6" y="569.5" font-size="9.2" style="stroke-width:0.06px" textLength="30.5" lengthAdjust="spacingAndGlyphs" fill="#333" >no drug</text>
<rect x="454.6" y="574.75" width="8.6" height="5.8" rx="0.5" fill="#4b7f9e" stroke="#1a1a1a" stroke-width="1.5"/>
<text x="467.6" y="581.55" font-size="9.2" style="stroke-width:0.06px" textLength="32.5" lengthAdjust="spacingAndGlyphs" fill="#333" >imatinib</text>
<rect x="454.6" y="586.80" width="8.6" height="5.8" rx="0.5" fill="#f0b934" stroke="#1a1a1a" stroke-width="1.5"/>
<text x="467.6" y="593.6" font-size="9.2" style="stroke-width:0.06px" textLength="51.2" lengthAdjust="spacingAndGlyphs" fill="#333" >anti-PDGFRA</text>
<text x="0.8" y="644.8" font-size="14" font-weight="bold" fill="#111" >C</text>
<text x="102" y="642.6" font-size="10" font-weight="bold" textLength="25.5" lengthAdjust="spacingAndGlyphs" fill="#111" >Z138</text>
<line x1="189.3" y1="642.5" x2="189.3" y2="732.7" stroke="#aaa" stroke-width="1"/>
<line x1="189.3" y1="730.2" x2="372.2" y2="730.2" stroke="#aaa" stroke-width="1"/>
<line x1="186.8" y1="730.2" x2="189.3" y2="730.2" stroke="#aaa" stroke-width="1"/>
<text x="180.4" y="733.6" font-size="8.6" text-anchor="end" fill="#333" >0</text>
<line x1="186.8" y1="712.7700000000001" x2="189.3" y2="712.7700000000001" stroke="#aaa" stroke-width="1"/>
<text x="180.4" y="716.27" font-size="8.6" text-anchor="end" fill="#333" >10</text>
<line x1="186.8" y1="695.34" x2="189.3" y2="695.34" stroke="#aaa" stroke-width="1"/>
<text x="180.4" y="698.94" font-size="8.6" text-anchor="end" fill="#333" >20</text>
<line x1="186.8" y1="677.9100000000001" x2="189.3" y2="677.9100000000001" stroke="#aaa" stroke-width="1"/>
<text x="180.4" y="681.61" font-size="8.6" text-anchor="end" fill="#333" >30</text>
<line x1="186.8" y1="660.48" x2="189.3" y2="660.48" stroke="#aaa" stroke-width="1"/>
<text x="180.4" y="664.28" font-size="8.6" text-anchor="end" fill="#333" >40</text>
<line x1="186.8" y1="643.0500000000001" x2="189.3" y2="643.0500000000001" stroke="#aaa" stroke-width="1"/>
<text x="180.4" y="646.95" font-size="8.6" text-anchor="end" fill="#333" >50</text>
<line x1="280.5" y1="730.2" x2="280.5" y2="732.7" stroke="#aaa" stroke-width="1"/>
<line x1="372.2" y1="730.2" x2="372.2" y2="732.7" stroke="#aaa" stroke-width="1"/>
<text transform="translate(148.6,689.2) rotate(-90)" font-size="9" font-weight="bold" text-anchor="middle" textLength="86" lengthAdjust="spacingAndGlyphs" fill="#111" >Relative reduction</text>
<text transform="translate(159.5,688) rotate(-90)" font-size="9" font-weight="bold" text-anchor="middle" textLength="94" lengthAdjust="spacingAndGlyphs" fill="#111" >in Cell Migration (%)</text>
<rect x="204.5" y="663.75" width="20.5" height="66.45000000000005" fill="#a6a6a6" stroke="#2a2a2a" stroke-width="1.1"/>
<rect x="225.0" y="656.75" width="20.5" height="73.45000000000005" fill="#4b7f9e" stroke="#2a2a2a" stroke-width="1.1"/>
<rect x="245.5" y="675" width="20.5" height="55.200000000000045" fill="#f0b934" stroke="#2a2a2a" stroke-width="1.1"/>
<line x1="214.75" y1="661.75" x2="214.75" y2="666.25" stroke="#1a1a1a" stroke-width="1.3"/>
<line x1="212.45" y1="661.75" x2="217.05" y2="661.75" stroke="#1a1a1a" stroke-width="1.3"/>
<line x1="212.45" y1="666.25" x2="217.05" y2="666.25" stroke="#1a1a1a" stroke-width="1.3"/>
<line x1="235.25" y1="656" x2="235.25" y2="657.5" stroke="#1a1a1a" stroke-width="1.3"/>
<line x1="232.95" y1="656" x2="237.55" y2="656" stroke="#1a1a1a" stroke-width="1.3"/>
<line x1="232.95" y1="657.5" x2="237.55" y2="657.5" stroke="#1a1a1a" stroke-width="1.3"/>
<line x1="255.75" y1="674.3" x2="255.75" y2="675.7" stroke="#1a1a1a" stroke-width="1.3"/>
<line x1="253.45" y1="674.3" x2="258.05" y2="674.3" stroke="#1a1a1a" stroke-width="1.3"/>
<line x1="253.45" y1="675.7" x2="258.05" y2="675.7" stroke="#1a1a1a" stroke-width="1.3"/>
<rect x="295.5" y="682" width="20.5" height="48.200000000000045" fill="#a6a6a6" stroke="#2a2a2a" stroke-width="1.1"/>
<rect x="316.0" y="651.25" width="20.5" height="78.95000000000005" fill="#4b7f9e" stroke="#2a2a2a" stroke-width="1.1"/>
<rect x="336.5" y="684.25" width="20.5" height="45.950000000000045" fill="#f0b934" stroke="#2a2a2a" stroke-width="1.1"/>
<line x1="305.75" y1="677.5" x2="305.75" y2="687" stroke="#1a1a1a" stroke-width="1.3"/>
<line x1="303.45" y1="677.5" x2="308.05" y2="677.5" stroke="#1a1a1a" stroke-width="1.3"/>
<line x1="303.45" y1="687" x2="308.05" y2="687" stroke="#1a1a1a" stroke-width="1.3"/>
<line x1="326.25" y1="650.3" x2="326.25" y2="652.3" stroke="#1a1a1a" stroke-width="1.3"/>
<line x1="323.95" y1="650.3" x2="328.55" y2="650.3" stroke="#1a1a1a" stroke-width="1.3"/>
<line x1="323.95" y1="652.3" x2="328.55" y2="652.3" stroke="#1a1a1a" stroke-width="1.3"/>
<line x1="346.75" y1="681.25" x2="346.75" y2="688" stroke="#1a1a1a" stroke-width="1.3"/>
<line x1="344.45" y1="681.25" x2="349.05" y2="681.25" stroke="#1a1a1a" stroke-width="1.3"/>
<line x1="344.45" y1="688" x2="349.05" y2="688" stroke="#1a1a1a" stroke-width="1.3"/>
<circle cx="220.70" cy="646.20" r="1.25" fill="#1a1a1a"/>
<text x="225.30" y="650.4" font-size="8.3" fill="#222" textLength="24.30" lengthAdjust="spacingAndGlyphs" style="stroke-width:0.12px"><tspan font-style="italic">p</tspan>=0.03</text>
<circle cx="250.10" cy="665.90" r="1.25" fill="#1a1a1a"/>
<text x="254.70" y="670.1" font-size="8.3" fill="#222" textLength="29.00" lengthAdjust="spacingAndGlyphs" style="stroke-width:0.12px"><tspan font-style="italic">p</tspan>=0.006</text>
<circle cx="308.90" cy="639.60" r="1.25" fill="#1a1a1a"/>
<circle cx="313.30" cy="639.60" r="1.25" fill="#1a1a1a"/>
<text x="317.90" y="643.8" font-size="8.3" fill="#222" textLength="28.50" lengthAdjust="spacingAndGlyphs" style="stroke-width:0.12px"><tspan font-style="italic">p</tspan>=0.001</text>
<text x="340.4" y="676.4" font-size="8.3" fill="#222" textLength="25.3" lengthAdjust="spacingAndGlyphs" style="stroke-width:0.12px"># <tspan font-style="italic">p</tspan>=0.2</text>
<text x="216" y="743.4" font-size="9" style="stroke-width:0.1px" textLength="32" lengthAdjust="spacingAndGlyphs" >imatinib</text>
<text x="302.8" y="743.5" font-size="8.8" style="stroke-width:0.1px" textLength="55.5" lengthAdjust="spacingAndGlyphs" >anti-PDGFR-α</text>
<rect x="395.1" y="661.8000000000001" width="6.6" height="7.6" fill="#a6a6a6" stroke="#1a1a1a" stroke-width="1.3"/>
<text x="407.2" y="668.6" font-size="8.9" style="stroke-width:0.06px" textLength="57.8" lengthAdjust="spacingAndGlyphs" fill="#333" >RPMI+10%FBS</text>
<rect x="395.1" y="673.4000000000001" width="6.6" height="7.6" fill="#4b7f9e" stroke="#1a1a1a" stroke-width="1.3"/>
<text x="407.2" y="680.2" font-size="8.9" style="stroke-width:0.06px" textLength="77.2" lengthAdjust="spacingAndGlyphs" fill="#333" >SOX11-positive CM</text>
<rect x="395.1" y="685.0000000000001" width="6.6" height="7.6" fill="#f0b934" stroke="#1a1a1a" stroke-width="1.3"/>
<text x="407.2" y="691.8000000000001" font-size="8.9" style="stroke-width:0.06px" textLength="78.9" lengthAdjust="spacingAndGlyphs" fill="#333" >SOX11-negative CM</text>
</svg></body></html>
